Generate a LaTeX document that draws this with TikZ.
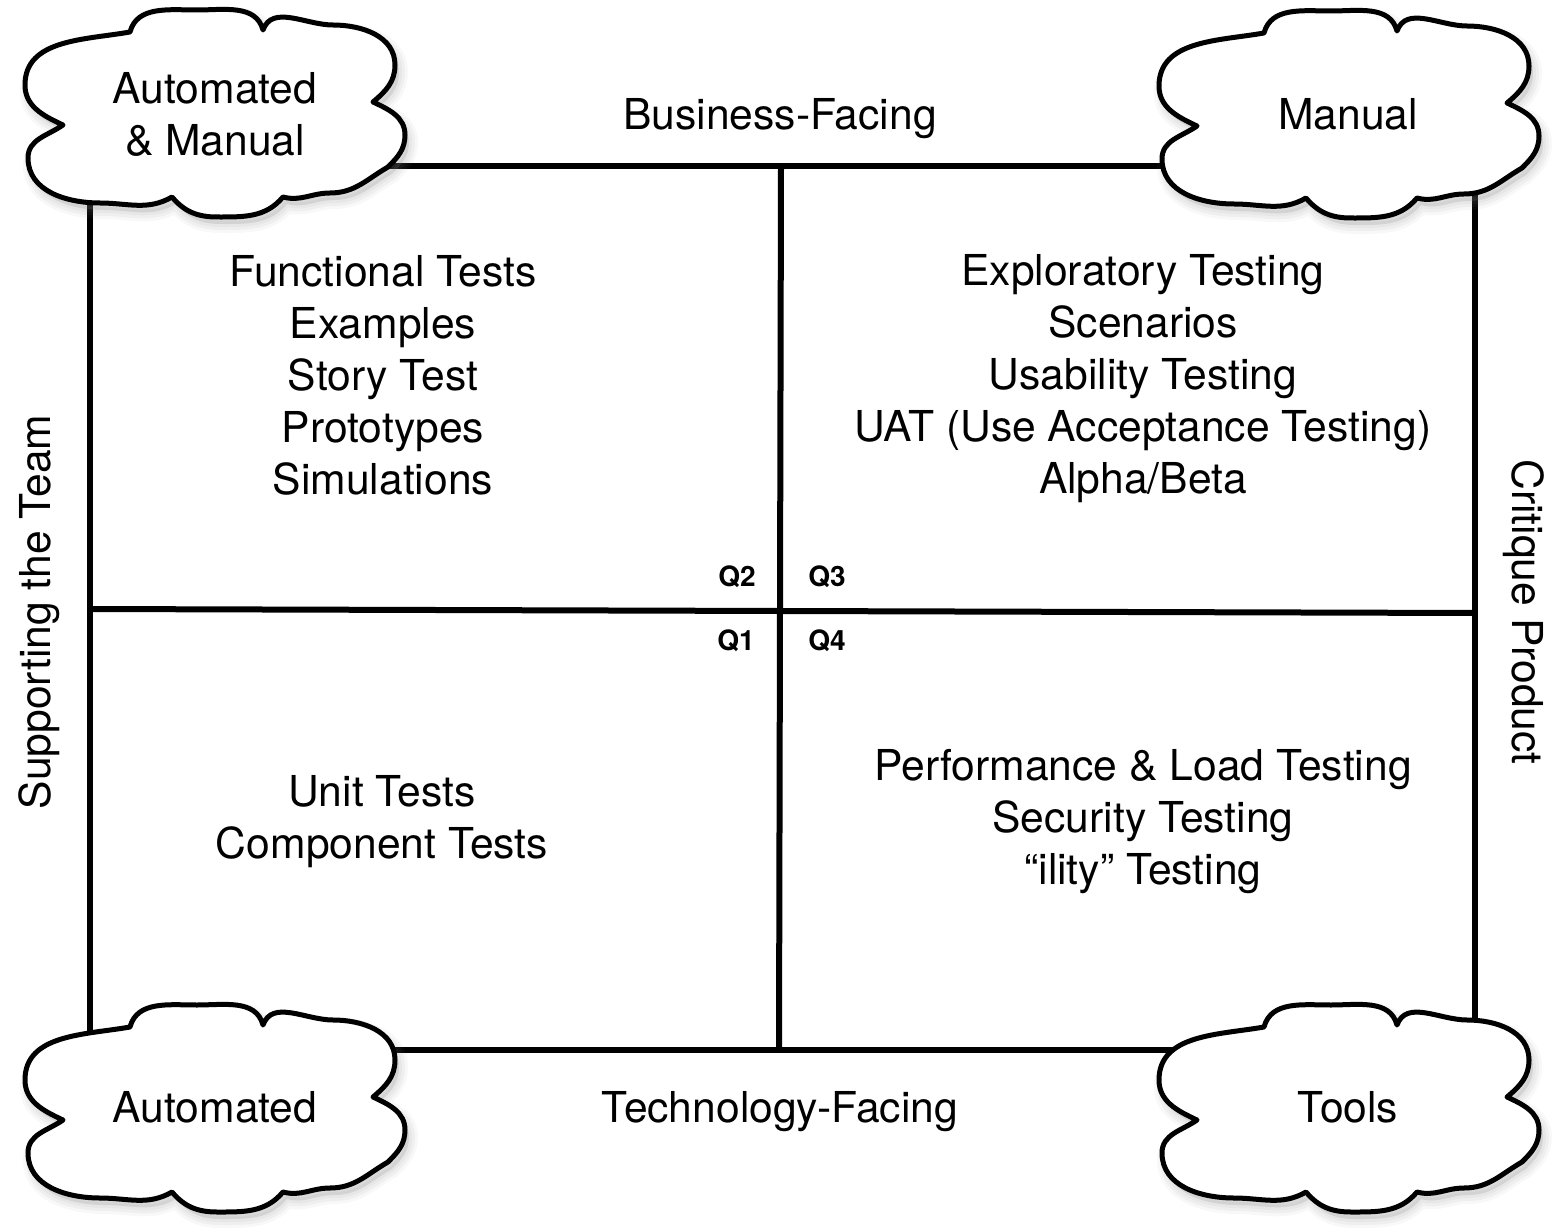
\documentclass[tikz,border=0pt]{standalone}
\usepackage{fontspec}
\setmainfont{TeX Gyre Heros}
% outline of a cloud, centred on the origin (1 unit = 0.5pt)
\newcommand{\qcloudpath}{(-152,-12) to[out=155,in=-90] (-190,28) to[out=90,in=190] (-85,81)
  to[out=75,in=180] (-18,103) to[out=0,in=105] (48,83)
  to[out=70,in=180] (118,88) to[out=0,in=90] (180,48) to[out=-90,in=40] (158,11)
  to[out=-25,in=90] (190,-22) to[out=-90,in=45] (173,-54)
  to[out=-150,in=0] (115,-80) to[out=180,in=-15] (68,-84)
  to[out=-130,in=0] (2,-104) to[out=180,in=-50] (-43,-84)
  to[out=-150,in=0] (-115,-90) to[out=180,in=-90] (-187,-45) to[out=90,in=215] (-152,-12) -- cycle}
\begin{document}
\begin{tikzpicture}[x=0.5pt,y=0.5pt,line join=round,
  frameline/.style={line width=3pt},
  cloudline/.style={line width=2.5pt,draw=black,fill=white},
  bigtext/.style={font=\fontsize{21.3}{26}\selectfont,align=center,inner sep=0pt},
  qlabel/.style={font=\fontsize{14}{16}\selectfont\bfseries,inner sep=0pt}]
\useasboundingbox (0,0) rectangle (1564,-1230);

% frame corners and quadrant dividers
\coordinate (tl) at (90,-166);
\coordinate (tr) at (1475,-166);
\coordinate (bl) at (90,-1050);
\coordinate (br) at (1475,-1050);
\coordinate (mt) at (781,-166);
\coordinate (mb) at (779,-1050);
\coordinate (ml) at (90,-609);
\coordinate (mr) at (1475,-613);

\draw[frameline] (tl) -- (tr) -- (br) -- (bl) -- cycle;
\draw[frameline] (mt) -- (mb);
\draw[frameline] (ml) -- (mr);

% clouds with soft drop shadows
\foreach \cx/\cy in {215/-113,1349/-114,215/-1108,1349/-1108}{
  \begin{scope}[shift={(\cx+4,\cy-7)}]
    \foreach \w/\o in {9pt/0.06,6pt/0.07,3pt/0.08}
      \filldraw[gray,opacity=\o,line width=\w] \qcloudpath;
  \end{scope}
  \begin{scope}[shift={(\cx,\cy)}]
    \path[cloudline] \qcloudpath;
  \end{scope}
}

% cloud labels
\node[bigtext] (am) at (215,-114) {Automated\\\& Manual};
\node[bigtext] (man) at (1348,-114) {Manual};
\node[bigtext] (auto) at (215,-1107) {Automated};
\node[bigtext] (tools) at (1348,-1107) {Tools};

% axis labels
\node[bigtext] (business) at (780,-119) {Business-Facing};
\node[bigtext] (technology) at (780,-1112) {Technology-Facing};
\node[bigtext,rotate=90] (support) at (39,-612) {Supporting the Team};
\node[bigtext,rotate=-90] (critique) at (1524,-612) {Critique Product};

% quadrant contents
\node[bigtext] (q2text) at (383,-375) {Functional Tests\\Examples\\Story Test\\Prototypes\\Simulations};
\node[bigtext] (q3text) at (1143,-379) {Exploratory Testing\\Scenarios\\Usability Testing\\UAT (Use Acceptance Testing)\\Alpha/Beta};
\node[bigtext] (q1text) at (382,-822) {Unit Tests\\Component Tests};
\node[bigtext] (q4text) at (1143,-822) {Performance \& Load Testing\\Security Testing\\“ility” Testing};

% quadrant numbers
\node[qlabel] (q2) at (737,-577) {Q2};
\node[qlabel] (q3) at (827,-577) {Q3};
\node[qlabel] (q1) at (736,-641) {Q1};
\node[qlabel] (q4) at (827,-641) {Q4};
\end{tikzpicture}
\end{document}
